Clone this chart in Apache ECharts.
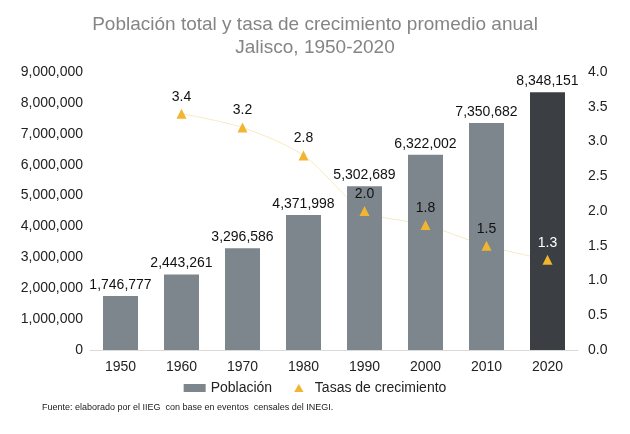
<!DOCTYPE html>
<html><head><meta charset="utf-8">
<script src="https://cdn.jsdelivr.net/npm/echarts@6/dist/echarts.min.js"></script>
<style>html,body{margin:0;padding:0;background:#fff}#c{width:630px;height:434px}</style>
</head><body><div id="c"></div>
<script>
const categories = ['1950','1960','1970','1980','1990','2000','2010','2020'];
const poblacion = [1746777, 2443261, 3296586, 4371998, 5302689, 6322002, 7350682, 8348151];
const tasas = [null, 3.4, 3.2, 2.8, 2.0, 1.8, 1.5, 1.3];
const leftTicks = [0, 9000000, 1000000];
const rightTicks = [0, 4, 0.5];

const fmt = v => v.toLocaleString('en-US');
const chart = echarts.init(document.getElementById('c'));
const font = 'Arial, "Liberation Sans", sans-serif';
chart.setOption({
  animation: false,
  textStyle: {fontFamily: font},
  title: {
    text: 'Población total y tasa de crecimiento promedio anual\nJalisco, 1950-2020',
    left: 'center', top: 8,
    textStyle: {fontSize: 19, fontWeight: 'normal', color: '#858585', lineHeight: 23, fontFamily: font}
  },
  legend: {
    top: 376, left: 'center', itemGap: 22, itemWidth: 22, itemHeight: 8,
    textStyle: {fontSize: 14, color: '#222', fontFamily: font},
    data: [{name: 'Población', icon: 'rect'}, {name: 'Tasas de crecimiento', icon: 'path://M5,0L10,8.5L0,8.5Z', itemStyle: {color: '#F2B530'}}]
  },
  graphic: [{type: 'text', left: 42, top: 403, style: {text: 'Fuente: elaborado por el IIEG  con base en eventos  censales del INEGI.', fontSize: 9, fill: '#222', fontFamily: font}}],
  grid: {left: 90, right: 52, top: 72, bottom: 84},
  xAxis: {
    type: 'category', data: categories,
    axisLine: {lineStyle: {color: '#d9d9d9'}}, axisTick: {show: false},
    axisLabel: {fontSize: 14, color: '#222', margin: 10}
  },
  yAxis: [
    {type: 'value', min: leftTicks[0], max: leftTicks[1], interval: leftTicks[2],
     splitLine: {show: false}, axisLine: {show: false}, axisTick: {show: false},
     axisLabel: {fontSize: 14, color: '#222', formatter: fmt, margin: 7}},
    {type: 'value', min: rightTicks[0], max: rightTicks[1], interval: rightTicks[2],
     splitLine: {show: false}, axisLine: {show: false}, axisTick: {show: false},
     axisLabel: {fontSize: 14, color: '#222', formatter: v => v.toFixed(1), margin: 10}}
  ],
  series: [
    {name: 'linea', type: 'line', yAxisIndex: 1, smooth: 0.3, z: 1,
     symbol: 'none', silent: true,
     lineStyle: {color: '#F7E9C2', width: 1},
     data: tasas},
    {name: 'Población', type: 'bar', barWidth: 35, z: 2,
     itemStyle: {color: '#7D868C'},
     data: poblacion.map((v, i) => i === poblacion.length - 1 ? {value: v, itemStyle: {color: '#3B3E42'}} : v),
     label: {show: true, position: 'top', distance: 4, fontSize: 14, color: '#111', formatter: p => fmt(p.value)}},
    {name: 'Tasas de crecimiento', type: 'line', yAxisIndex: 1, z: 3,
     symbol: 'triangle', symbolSize: 10,
     itemStyle: {color: '#F2B530'},
     lineStyle: {width: 0, opacity: 0},
     data: tasas.map((v, i) => i === tasas.length - 1 ? {value: v, label: {color: '#fff'}} : v),
     label: {show: true, position: 'top', distance: 5, fontSize: 14, color: '#111', formatter: p => p.value.toFixed(1)}}
  ]
});
</script></body></html>
